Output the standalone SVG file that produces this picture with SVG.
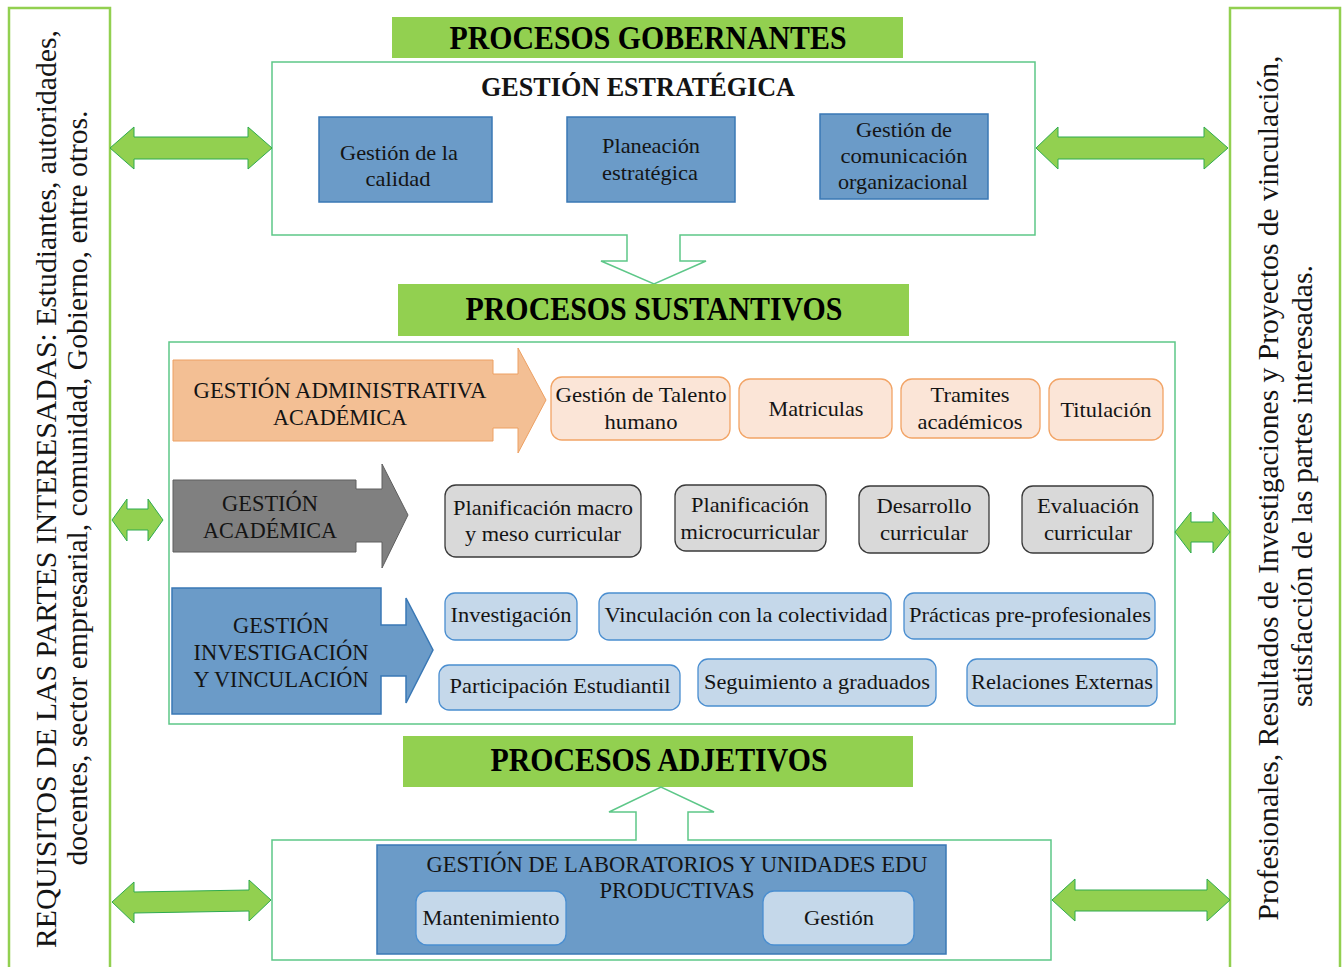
<svg xmlns="http://www.w3.org/2000/svg" width="1342" height="967" viewBox="0 0 1342 967">
<style>
  text { font-family: "Liberation Serif", "Times New Roman", serif; fill: #141414; }
  .hdr { fill: #92D050; }
  .hdrt { font-family: "Liberation Serif", serif; font-weight: bold; font-size: 34px; text-anchor: middle; fill: #000; }
  .cont { fill: #fff; stroke: #5DC788; stroke-width: 1.5; }
  .side { fill: #fff; stroke: #92D050; stroke-width: 2.5; }
  .sidet { font-family: "Liberation Serif", serif; font-size: 30px; text-anchor: middle; }
  .dbl { fill: #92D050; stroke: #2FAA4F; stroke-width: 1; }
  .blue { fill: #6B9BC8; stroke: #3A78B5; stroke-width: 1.5; }
  .lblue { fill: #C5D8EA; stroke: #4A8ED0; stroke-width: 1.3; }
  .oarr { fill: #F3BF94; stroke: #EDA062; stroke-width: 1; }
  .obox { fill: #FBE5D7; stroke: #F2A466; stroke-width: 1.3; }
  .garr { fill: #808080; stroke: #5E5E5E; stroke-width: 1; }
  .gbox { fill: #D9D9D9; stroke: #3A3A3A; stroke-width: 1.3; }
  .bt { font-family: "Liberation Serif", serif; font-size: 22px; text-anchor: middle; }
  .lt { font-family: "Liberation Serif", serif; font-size: 23px; text-anchor: middle; }
</style>

<g id="panel-left">
  <rect class="side" x="9" y="8" width="101" height="962"/>
  <text class="sidet" transform="translate(56,489) rotate(-90)" textLength="918" lengthAdjust="spacingAndGlyphs">REQUISITOS DE LAS PARTES INTERESADAS: Estudiantes, autoridades,</text>
  <text class="sidet" transform="translate(87,488) rotate(-90)" textLength="755" lengthAdjust="spacingAndGlyphs">docentes, sector empresarial, comunidad, Gobierno, entre otros.</text>
</g>

<g id="panel-right">
  <rect class="side" x="1230" y="8" width="110" height="962"/>
  <text class="sidet" transform="translate(1278,488) rotate(-90)" textLength="865" lengthAdjust="spacingAndGlyphs">Profesionales, Resultados de Investigaciones y Proyectos de vinculación,</text>
  <text class="sidet" transform="translate(1312,486) rotate(-90)" textLength="442" lengthAdjust="spacingAndGlyphs">satisfacción de las partes interesadas.</text>
</g>

<g id="gobernantes">
  <rect class="hdr" x="392" y="17" width="511" height="41"/>
  <text class="hdrt" x="648" y="49" textLength="397" lengthAdjust="spacingAndGlyphs">PROCESOS GOBERNANTES</text>
  <path class="cont" d="M627,235 L272,235 L272,62 L1035,62 L1035,235 L680,235 L680,261 L706,261 L654,284 L601,261 L627,261 Z"/>
  <text x="638" y="96" font-size="27" font-weight="bold" text-anchor="middle" fill="#000" textLength="314" lengthAdjust="spacingAndGlyphs">GESTIÓN ESTRATÉGICA</text>
</g>

<g id="n-calidad">
  <rect class="blue" x="319" y="117" width="173" height="85"/>
  <text class="bt" x="399" y="160" textLength="118" lengthAdjust="spacingAndGlyphs">Gestión de la</text>
  <text class="bt" x="398" y="186" textLength="65" lengthAdjust="spacingAndGlyphs">calidad</text>
</g>
<g id="n-planeacion">
  <rect class="blue" x="567" y="117" width="168" height="85"/>
  <text class="bt" x="651" y="153" textLength="98" lengthAdjust="spacingAndGlyphs">Planeación</text>
  <text class="bt" x="650" y="180" textLength="96" lengthAdjust="spacingAndGlyphs">estratégica</text>
</g>
<g id="n-comunicacion">
  <rect class="blue" x="820" y="114" width="168" height="85"/>
  <text class="bt" x="904" y="137" textLength="96" lengthAdjust="spacingAndGlyphs">Gestión de</text>
  <text class="bt" x="904" y="163" textLength="127" lengthAdjust="spacingAndGlyphs">comunicación</text>
  <text class="bt" x="903" y="189" textLength="130" lengthAdjust="spacingAndGlyphs">organizacional</text>
</g>

<g id="sustantivos">
  <rect class="hdr" x="398" y="284" width="511" height="52"/>
  <text class="hdrt" x="654" y="320" textLength="377" lengthAdjust="spacingAndGlyphs">PROCESOS SUSTANTIVOS</text>
  <rect class="cont" x="169" y="342" width="1006" height="382"/>
</g>

<g id="n-gest-admin">
  <polygon class="oarr" points="173,360 493,360 493,374 518,374 518,348 546,400 518,453 518,428 493,428 493,441 173,441"/>
  <text class="lt" x="340" y="398" textLength="293" lengthAdjust="spacingAndGlyphs">GESTIÓN ADMINISTRATIVA</text>
  <text class="lt" x="340" y="425" textLength="134" lengthAdjust="spacingAndGlyphs">ACADÉMICA</text>
</g>
<g id="n-talento">
  <rect class="obox" x="551" y="377" width="179" height="63" rx="11"/>
  <text class="bt" x="641" y="402" textLength="171" lengthAdjust="spacingAndGlyphs">Gestión de Talento</text>
  <text class="bt" x="641" y="429" textLength="73" lengthAdjust="spacingAndGlyphs">humano</text>
</g>
<g id="n-matriculas">
  <rect class="obox" x="739" y="379" width="153" height="59" rx="11"/>
  <text class="bt" x="816" y="416" textLength="95" lengthAdjust="spacingAndGlyphs">Matriculas</text>
</g>
<g id="n-tramites">
  <rect class="obox" x="901" y="379" width="139" height="59" rx="11"/>
  <text class="bt" x="970" y="402" textLength="79" lengthAdjust="spacingAndGlyphs">Tramites</text>
  <text class="bt" x="970" y="429" textLength="105" lengthAdjust="spacingAndGlyphs">académicos</text>
</g>
<g id="n-titulacion">
  <rect class="obox" x="1049" y="379" width="114" height="61" rx="11"/>
  <text class="bt" x="1106" y="417" textLength="91" lengthAdjust="spacingAndGlyphs">Titulación</text>
</g>

<g id="n-gest-acad">
  <polygon class="garr" points="173,480 356,480 356,489 382,489 382,464 408,515 382,568 382,542 356,542 356,552 173,552"/>
  <text class="lt" x="270" y="511" fill="#2a2a2a" textLength="96" lengthAdjust="spacingAndGlyphs">GESTIÓN</text>
  <text class="lt" x="270" y="538" fill="#2a2a2a" textLength="134" lengthAdjust="spacingAndGlyphs">ACADÉMICA</text>
</g>
<g id="n-macro">
  <rect class="gbox" x="445" y="485" width="196" height="72" rx="11"/>
  <text class="bt" x="543" y="515" textLength="180" lengthAdjust="spacingAndGlyphs">Planificación macro</text>
  <text class="bt" x="543" y="541" textLength="156" lengthAdjust="spacingAndGlyphs">y meso curricular</text>
</g>
<g id="n-micro">
  <rect class="gbox" x="675" y="485" width="151" height="66" rx="11"/>
  <text class="bt" x="750" y="512" textLength="118" lengthAdjust="spacingAndGlyphs">Planificación</text>
  <text class="bt" x="750" y="539" textLength="139" lengthAdjust="spacingAndGlyphs">microcurricular</text>
</g>
<g id="n-desarrollo">
  <rect class="gbox" x="859" y="486" width="130" height="67" rx="11"/>
  <text class="bt" x="924" y="513" textLength="95" lengthAdjust="spacingAndGlyphs">Desarrollo</text>
  <text class="bt" x="924" y="540" textLength="88" lengthAdjust="spacingAndGlyphs">curricular</text>
</g>
<g id="n-evaluacion">
  <rect class="gbox" x="1022" y="486" width="131" height="67" rx="11"/>
  <text class="bt" x="1088" y="513" textLength="102" lengthAdjust="spacingAndGlyphs">Evaluación</text>
  <text class="bt" x="1088" y="540" textLength="88" lengthAdjust="spacingAndGlyphs">curricular</text>
</g>

<g id="n-gest-inv">
  <polygon class="blue" points="172,588 381,588 381,625 406,625 406,598 433,650 406,703 406,676 381,676 381,714 172,714"/>
  <text class="lt" x="281" y="633" textLength="96" lengthAdjust="spacingAndGlyphs">GESTIÓN</text>
  <text class="lt" x="281" y="660" textLength="175" lengthAdjust="spacingAndGlyphs">INVESTIGACIÓN</text>
  <text class="lt" x="281" y="687" textLength="175" lengthAdjust="spacingAndGlyphs">Y VINCULACIÓN</text>
</g>
<g id="n-investigacion">
  <rect class="lblue" x="445" y="593" width="132" height="47" rx="10"/>
  <text class="bt" x="511" y="622" textLength="121" lengthAdjust="spacingAndGlyphs">Investigación</text>
</g>
<g id="n-vinculacion">
  <rect class="lblue" x="599" y="593" width="292" height="47" rx="10"/>
  <text class="bt" x="746" y="622" textLength="283" lengthAdjust="spacingAndGlyphs">Vinculación con la colectividad</text>
</g>
<g id="n-practicas">
  <rect class="lblue" x="904" y="593" width="251" height="46" rx="10"/>
  <text class="bt" x="1030" y="622" textLength="242" lengthAdjust="spacingAndGlyphs">Prácticas pre-profesionales</text>
</g>
<g id="n-participacion">
  <rect class="lblue" x="439" y="665" width="241" height="45" rx="10"/>
  <text class="bt" x="560" y="693" textLength="221" lengthAdjust="spacingAndGlyphs">Participación Estudiantil</text>
</g>
<g id="n-seguimiento">
  <rect class="lblue" x="698" y="659" width="238" height="47" rx="10"/>
  <text class="bt" x="817" y="689" textLength="226" lengthAdjust="spacingAndGlyphs">Seguimiento a graduados</text>
</g>
<g id="n-relaciones">
  <rect class="lblue" x="967" y="659" width="190" height="47" rx="10"/>
  <text class="bt" x="1062" y="689" textLength="182" lengthAdjust="spacingAndGlyphs">Relaciones Externas</text>
</g>

<g id="adjetivos">
  <rect class="hdr" x="403" y="736" width="510" height="51"/>
  <text class="hdrt" x="659" y="771" textLength="337" lengthAdjust="spacingAndGlyphs">PROCESOS ADJETIVOS</text>
  <path class="cont" d="M636,840 L272,840 L272,960 L1051,960 L1051,840 L688,840 L688,812 L714,812 L661,787 L609,812 L636,812 Z"/>
</g>

<g id="n-laboratorios">
  <rect class="blue" x="377" y="845" width="569" height="109"/>
  <text class="lt" x="677" y="872" fill="#2a2a2a" textLength="501" lengthAdjust="spacingAndGlyphs">GESTIÓN DE LABORATORIOS Y UNIDADES EDU</text>
  <text class="lt" x="677" y="898" fill="#2a2a2a" textLength="155" lengthAdjust="spacingAndGlyphs">PRODUCTIVAS</text>
</g>
<g id="n-mantenimiento">
  <rect class="lblue" x="416" y="891" width="150" height="54" rx="11"/>
  <text class="bt" x="491" y="925" textLength="137" lengthAdjust="spacingAndGlyphs">Mantenimiento</text>
</g>
<g id="n-gestion">
  <rect class="lblue" x="763" y="891" width="151" height="54" rx="11"/>
  <text class="bt" x="839" y="925" textLength="70" lengthAdjust="spacingAndGlyphs">Gestión</text>
</g>

<g id="connectors">
  <polygon class="dbl" points="110,148 134,127 134,137 248,137 248,127 272,148 248,169 248,159 134,159 134,169"/>
  <polygon class="dbl" points="1036,148 1058,127 1058,137 1204,137 1204,127 1228,148 1204,169 1204,159 1058,159 1058,169"/>
  <polygon class="dbl" points="112,520 127,499 127,509 148,509 148,499 163,520 148,541 148,530 127,530 127,541"/>
  <polygon class="dbl" points="1175,532 1191,512 1191,522 1213,522 1213,512 1230,532 1213,553 1213,542 1191,542 1191,553"/>
  <polygon class="dbl" points="112,902 134,882 134,892 249,890 249,880 271,900 249,921 249,911 134,913 134,923"/>
  <polygon class="dbl" points="1052,900 1075,879 1075,890 1207,890 1207,879 1230,900 1207,921 1207,911 1075,911 1075,921"/>
</g>
</svg>
